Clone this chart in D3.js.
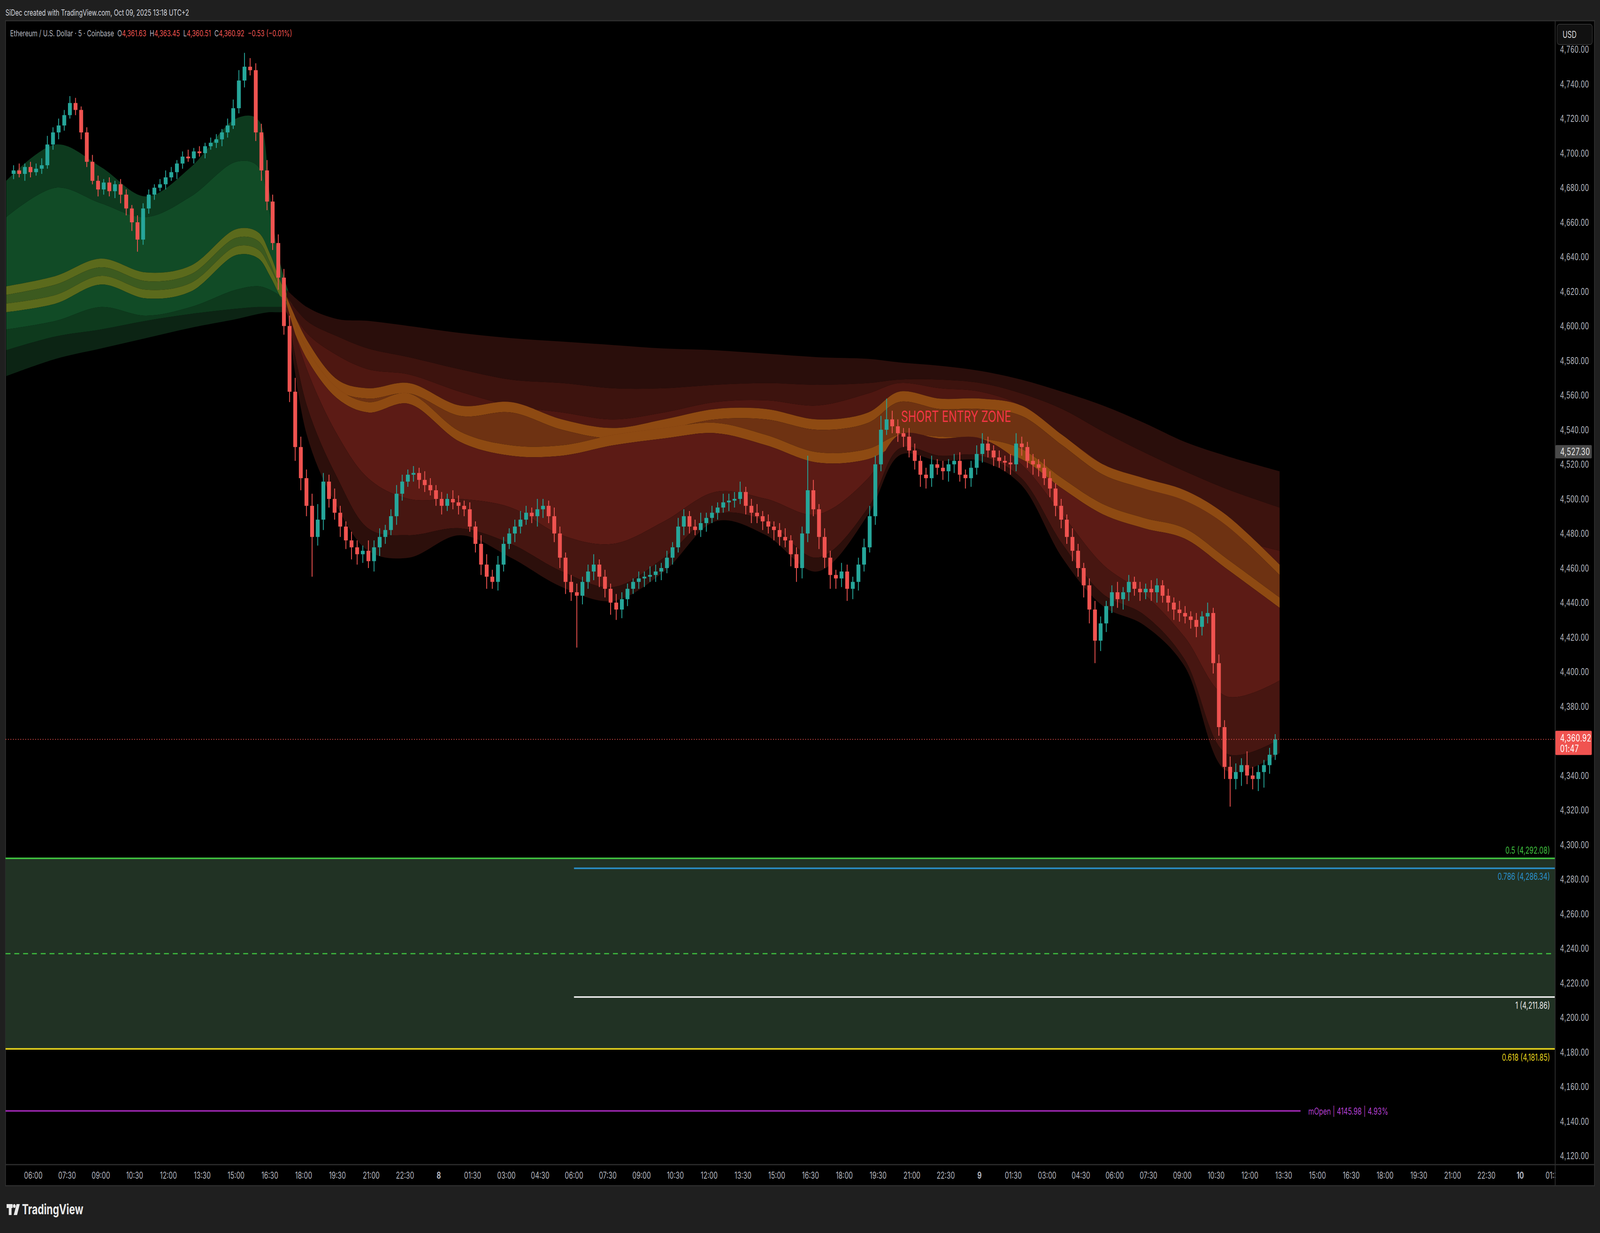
<!DOCTYPE html>
<html>
<head>
<meta charset="utf-8">
<script src="https://cdn.jsdelivr.net/npm/d3@7"></script>
<style>
  html, body { margin: 0; padding: 0; overflow: hidden; background: #1f1f1f; }
  svg { display: block; width: 100vw; height: 100vh; font-family: Inter, "Noto Sans", sans-serif; }
</style>
</head>
<body>
<div id="chart"></div>
<script>
// closes of 15 minute bars, from Oct 7 05:00
var closes = [4690,4688,4692,4689,4691,4693,4705,4712,4716,4722,4729,4725,4712,4695,4684,4679,4683,4678,4682,4676,4668,4660,4650,4668,4676,
  4680,4682,4686,4689,4694,4698,4697,4701,4700,4704,4706,4708,4712,4716,4726,4742,4750,4748,4712,4690,4672,4648,4628,4600,4562,
  4530,4512,4496,4478,4488,4510,4500,4492,4484,4476,4472,4468,4470,4464,4472,4478,4482,4490,4503,4510,4514,4515,4511,4508,4505,
  4500,4496,4500,4498,4496,4494,4484,4474,4462,4455,4452,4462,4474,4480,4484,4488,4492,4490,4494,4496,4490,4480,4466,4452,4446,
  4444,4452,4458,4462,4455,4448,4440,4436,4442,4448,4452,4454,4455,4456,4458,4460,4466,4472,4484,4490,4484,4482,4486,4489,4492,
  4495,4498,4499,4500,4504,4496,4492,4490,4487,4484,4482,4478,4476,4468,4460,4480,4505,4494,4478,4466,4456,4454,4458,4448,4452,
  4462,4472,4490,4520,4540,4546,4542,4538,4536,4528,4522,4514,4512,4520,4518,4516,4520,4522,4514,4512,4518,4526,4532,4528,4524,
  4522,4521,4520,4532,4530,4522,4520,4518,4512,4506,4496,4488,4478,4470,4460,4450,4436,4418,4428,4438,4446,4442,4446,4452,4448,
  4446,4448,4446,4450,4444,4440,4436,4434,4432,4430,4426,4432,4434,4405,4368,4345,4338,4342,4346,4340,4338,4342,4346,4352,4360.92];
var hiX = [3,4,2,3,3,4,5,3,4,3,4,3,2,3,4,3,2,3,2,3,3,2,4,3,3,
  2,3,4,3,2,3,4,2,3,2,3,3,2,4,5,6,8,5,4,5,6,4,5,5,6,
  8,6,5,7,9,5,4,6,4,3,5,4,3,6,4,5,3,4,5,4,3,4,3,5,4,
  3,4,3,5,4,3,4,3,5,6,4,5,4,3,4,5,4,3,6,4,3,5,4,3,4,
  5,3,4,6,3,4,3,5,4,3,2,4,3,5,4,3,4,3,5,4,3,4,6,3,4,
  3,5,4,4,6,3,4,5,3,4,3,4,5,3,4,4,20,6,3,5,4,3,5,4,3,
  4,5,6,5,8,12,5,4,3,5,4,3,4,5,3,4,3,4,5,3,4,5,6,4,3,
  4,3,5,6,4,3,4,3,5,4,3,4,3,5,4,3,4,5,4,3,4,6,3,4,3,
  4,3,5,4,3,4,3,5,4,3,4,3,6,3,5,4,6,5,4,8,5,4,3,4,3];
var loX = [3,2,4,3,2,3,2,3,4,3,2,3,4,3,2,4,3,3,4,5,4,5,7,3,3,
  3,2,3,2,4,3,2,3,2,3,2,3,4,3,2,3,4,3,5,6,5,4,7,5,6,
  8,7,6,23,5,6,5,4,6,5,7,6,5,4,6,5,4,3,5,4,3,4,5,4,3,
  4,5,3,4,5,4,3,5,6,7,4,5,4,3,5,4,3,4,6,5,4,5,6,7,5,
  30,5,4,5,6,5,7,6,5,4,3,4,5,3,4,5,3,4,3,5,4,3,4,5,3,
  4,3,5,4,3,5,6,4,5,4,6,5,4,7,8,6,5,4,7,6,8,6,5,7,6,
  5,4,3,5,4,3,4,5,6,4,5,7,6,5,4,5,6,5,4,6,5,4,5,4,5,
  4,5,6,4,5,4,6,5,4,5,6,5,4,6,5,7,8,13,6,5,4,5,6,5,4,
  5,4,5,6,4,5,6,5,4,5,6,5,4,6,5,7,16,6,8,5,6,7,9,5,3];

// green ribbon, hours since Oct 7 06:00
var gT = [-1.2,1,3,5,7,9,10,10.5,11,11.5];
var gTop = [4684,4705,4692,4675,4692,4720,4719,4676,4629,4608];
var gMid = [4663,4680,4671,4663,4675,4695,4692,4665,4634,4613];
var gY1 = [4623,4629,4639,4631,4635,4656,4654,4642,4625,4613];
var gY2 = [4613,4618,4629,4621,4625,4646,4644,4634,4621,4610];
var gLow = [4598,4603,4611,4606,4611,4621,4623,4621,4617,4611];
var gSlow1 = [4586,4594,4598,4603,4607,4610,4611,4611,4611,4611];
var gSlow2 = [4571,4581,4587,4593,4599,4604,4607,4608,4608,4609];

// red ribbon
var rT = [11.24,12.14,13.5,14.86,16.67,18.94,21.2,23.47,25.74,28.0,30.27,32.53,34.8,37.06,38.42,40.24,42.05,43.86,45.67,47.48,49.3,51.11,52.92,55.32];
var rS2 = [4621,4611,4604,4603,4600,4596,4593,4591,4589,4587,4586,4584,4582,4581,4579,4577,4574,4569,4562,4554,4544,4533,4525,4516];
var rS1 = [4617,4603,4594,4587,4582,4575,4569,4567,4564,4564,4566,4567,4566,4567,4569,4569,4567,4561,4552,4539,4527,4516,4506,4495];
var rMid = [4614,4596,4583,4575,4572,4562,4554,4550,4546,4550,4556,4557,4554,4561,4567,4564,4562,4554,4537,4520,4504,4491,4479,4470];
var rO1 = [4617,4592,4569,4564,4567,4554,4556,4546,4541,4546,4552,4552,4546,4550,4562,4558,4558,4554,4537,4520,4512,4505,4491,4462];
var rO2 = [4614,4587,4564,4556,4561,4539,4531,4531,4537,4541,4544,4537,4527,4529,4537,4536,4535,4529,4512,4497,4489,4483,4466,4443];
var rIn1 = [4613,4575,4537,4512,4500,4500,4495,4479,4474,4487,4504,4500,4491,4512,4537,4535,4535,4520,4491,4462,4445,4420,4386,4395];
var rIn2 = [4611,4554,4512,4483,4479,4483,4474,4458,4449,4466,4491,4487,4466,4495,4529,4525,4525,4512,4474,4445,4433,4407,4353,4361];
var rFast = [4611,4537,4495,4470,4466,4479,4466,4449,4441,4458,4487,4479,4458,4491,4525,4522,4522,4508,4466,4438,4427,4403,4343,4353];

var priceTicks = d3.range(4120, 4761, 20).filter(function(v) { return v !== 4360; });
var fibNames = ["0.5", "0.786", "1", "0.618"];
var fibValues = [4292.08, 4286.34, 4211.86, 4181.85];
var fibMid = 4236.97;
var mOpen = 4145.98;
var lastPrice = 4360.92;
var markPrice = 4527.30;

var W = 5816, H = 3156;
var L = 20, R = 5653, T = 53, B = 2981;

var svg = d3.select("#chart").append("svg")
  .attr("viewBox", "0 0 " + W + " " + H)
  .attr("preserveAspectRatio", "none");
svg.append("rect").attr("width", W).attr("height", H).attr("fill", "#1f1f1f");
svg.append("rect").attr("x", L).attr("y", T).attr("width", 5796 - L).attr("height", 3035 - T)
  .attr("fill", "#000").attr("stroke", "#2e2e2e").attr("stroke-width", 3);

var y = d3.scaleLinear().domain([4120, 4760]).range([2958.5, 126.5]);
var x = d3.scaleTime()
  .domain([new Date(2025, 9, 7, 6, 0), new Date(2025, 9, 10, 0, 0)])
  .range([121, 5526]);
var t0 = new Date(2025, 9, 7, 6, 0);
function hrs(h) { return new Date(t0.getTime() + h * 3600e3); }

var plot = svg.append("g");
svg.append("clipPath").attr("id", "clip").append("rect")
  .attr("x", L).attr("y", T).attr("width", R - L).attr("height", B - T);
plot.attr("clip-path", "url(#clip)");

// ribbons
function band(ts, a, b, color) {
  var pts = ts.map(function(t, i) { return {t: t, a: a[i], b: b[i]}; });
  var area = d3.area()
    .curve(d3.curveCatmullRom)
    .x(function(d) { return x(hrs(d.t)); })
    .y0(function(d) { return y(d.a); })
    .y1(function(d) { return y(d.b); });
  plot.append("path").datum(pts).attr("d", area).attr("fill", color);
}
function shift(arr, v) { return arr.map(function(d) { return d - v; }); }

band(gT, gSlow1, gSlow2, "#0c2414");
band(gT, gLow, gSlow1, "#0e3a1d");
band(gT, gTop, gMid, "#0d3a1e");
band(gT, gMid, gY1, "#114b26");
band(gT, gY1, shift(gY1, 5), "#5b6a1c");
band(gT, shift(gY1, 5), gY2, "#3c5a1f");
band(gT, gY2, shift(gY2, 5), "#5b6a1c");
band(gT, shift(gY2, 5), gLow, "#114b26");

band(rT, rS2, rS1, "#2a0e0b");
band(rT, rS1, rMid, "#3d130e");
band(rT, rMid, rO1, "#4e1711");
band(rT, rO1, shift(rO1, 6), "#8e4a12");
band(rT, shift(rO1, 6), rO2, "#6e3212");
band(rT, rO2, shift(rO2, 6), "#8e4a12");
band(rT, shift(rO2, 6), rIn1, "#5c1b15");
band(rT, rIn1, rIn2, "#471611");
band(rT, rIn2, rFast, "#2c0f0b");

// fib zone
plot.append("rect").attr("x", L).attr("width", R - L)
  .attr("y", y(fibValues[0])).attr("height", y(fibValues[3]) - y(fibValues[0]))
  .attr("fill", "#213224");
var fibStart = new Date(2025, 9, 8, 6, 0);
var fibColors = ["#3fbf3f", "#2a8fc9", "#e8e8e8", "#e6d21c"];
fibValues.forEach(function(v, i) {
  var x0 = (i === 1 || i === 2) ? x(fibStart) : L;
  plot.append("line").attr("x1", x0).attr("x2", R).attr("y1", y(v)).attr("y2", y(v))
    .attr("stroke", fibColors[i]).attr("stroke-width", 4);
  svg.append("text").attr("x", 5634).attr("y", y(v) + (i === 0 ? -12 : 30))
    .attr("text-anchor", "end").attr("fill", fibColors[i]).attr("font-size", 24)
    .text(fibNames[i] + " (" + d3.format(",.2f")(v) + ")");
});
plot.append("line").attr("x1", L).attr("x2", R).attr("y1", y(fibMid)).attr("y2", y(fibMid))
  .attr("stroke", "#3fbf3f").attr("stroke-width", 3).attr("stroke-dasharray", "18,14");

// mOpen
var mEnd = x(new Date(2025, 9, 9, 14, 15));
plot.append("line").attr("x1", L).attr("x2", mEnd).attr("y1", y(mOpen)).attr("y2", y(mOpen))
  .attr("stroke", "#9c27b0").attr("stroke-width", 4);
svg.append("text").attr("x", mEnd + 28).attr("y", y(mOpen) + 9).attr("fill", "#b33fd0")
  .attr("font-size", 24).text("mOpen | 4145.98 | 4.93%");

// candles
var bars = closes.map(function(c, i) {
  var o = i === 0 ? 4688 : closes[i - 1];
  return {t: -1 + i * 0.25 + 0.125, o: o, c: c,
          h: Math.max(o, c) + hiX[i], l: Math.min(o, c) - loX[i]};
});
var bw = 14;
var cg = plot.selectAll(".bar").data(bars).enter().append("g");
cg.append("line")
  .attr("x1", function(d) { return x(hrs(d.t)); })
  .attr("x2", function(d) { return x(hrs(d.t)); })
  .attr("y1", function(d) { return y(d.h); })
  .attr("y2", function(d) { return y(d.l); })
  .attr("stroke", function(d) { return d.c >= d.o ? "#26a69a" : "#ef5350"; })
  .attr("stroke-width", 3);
cg.append("rect")
  .attr("x", function(d) { return x(hrs(d.t)) - bw / 2; })
  .attr("width", bw)
  .attr("y", function(d) { return y(Math.max(d.o, d.c)); })
  .attr("height", function(d) { return Math.max(3, Math.abs(y(d.o) - y(d.c))); })
  .attr("fill", function(d) { return d.c >= d.o ? "#26a69a" : "#ef5350"; });

// last price line
plot.append("line").attr("x1", L).attr("x2", R).attr("y1", y(lastPrice)).attr("y2", y(lastPrice))
  .attr("stroke", "#ef5350").attr("stroke-width", 2).attr("stroke-dasharray", "3,6");

svg.append("text").attr("x", 3275).attr("y", 1080).attr("fill", "#f23645")
  .attr("font-size", 40).text("SHORT ENTRY ZONE");

// price axis
svg.append("line").attr("x1", R).attr("x2", R).attr("y1", T).attr("y2", 3035)
  .attr("stroke", "#2e2e2e").attr("stroke-width", 3);
var yAxis = d3.axisRight(y).tickValues(priceTicks)
  .tickFormat(d3.format(",.2f")).tickSize(0).tickPadding(18);
var ya = svg.append("g").attr("transform", "translate(" + R + ",0)").call(yAxis);
ya.select(".domain").remove();
ya.selectAll("text").attr("fill", "#b2b5be").attr("font-size", 25).attr("letter-spacing", 1);

svg.append("rect").attr("x", 5660).attr("y", 62).attr("width", 128).attr("height", 52)
  .attr("rx", 8).attr("fill", "#111").attr("stroke", "#333").attr("stroke-width", 2);
svg.append("text").attr("x", 5680).attr("y", 97).attr("fill", "#ddd").attr("font-size", 24).text("USD");

svg.append("rect").attr("x", 5654).attr("y", y(markPrice) - 17).attr("width", 132).attr("height", 34)
  .attr("rx", 3).attr("fill", "#4a4a4a");
svg.append("text").attr("x", 5671).attr("y", y(markPrice) + 9).attr("fill", "#e8e8e8")
  .attr("font-size", 25).attr("letter-spacing", 1).text(d3.format(",.2f")(markPrice));

svg.append("rect").attr("x", 5654).attr("y", y(lastPrice) - 22).attr("width", 132).attr("height", 62)
  .attr("rx", 3).attr("fill", "#f05350");
svg.append("text").attr("x", 5671).attr("y", y(lastPrice) + 6).attr("fill", "#fff")
  .attr("font-size", 25).attr("letter-spacing", 1).text(d3.format(",.2f")(lastPrice));
svg.append("text").attr("x", 5671).attr("y", y(lastPrice) + 33).attr("fill", "#fff")
  .attr("font-size", 25).attr("letter-spacing", 1).text("01:47");

// time axis
svg.append("line").attr("x1", L).attr("x2", 5796).attr("y1", B).attr("y2", B)
  .attr("stroke", "#2e2e2e").attr("stroke-width", 3);
var ticks = d3.timeMinute.range(new Date(2025, 9, 7, 6, 0), new Date(2025, 9, 10, 1, 40), 90);
svg.append("clipPath").attr("id", "clipx").append("rect").attr("x", L).attr("y", B).attr("width", R - L).attr("height", 60);
var xg = svg.append("g").attr("clip-path", "url(#clipx)");
xg.selectAll("text").data(ticks).enter().append("text")
  .attr("x", function(d) { return x(d); })
  .attr("y", 3017).attr("text-anchor", "middle").attr("font-size", 24)
  .attr("fill", "#b2b5be")
  .attr("font-weight", function(d) { return d.getHours() === 0 && d.getMinutes() === 0 ? "bold" : null; })
  .text(function(d) {
    return d.getHours() === 0 && d.getMinutes() === 0 ? d.getDate() : d3.timeFormat("%H:%M")(d);
  });

// header
svg.append("text").attr("x", 20).attr("y", 40).attr("fill", "#d1d4dc").attr("font-size", 22)
  .text("SiDec created with TradingView.com, Oct 09, 2025 13:18 UTC+2");
var lg = svg.append("text").attr("x", 37).attr("y", 93).attr("font-size", 22).attr("fill", "#b2b5be")
  .attr("xml:space", "preserve");
lg.append("tspan").text("Ethereum / U.S. Dollar · 5 · Coinbase  O");
lg.append("tspan").attr("fill", "#ef5350").text("4,361.63");
lg.append("tspan").text("  H");
lg.append("tspan").attr("fill", "#ef5350").text("4,363.45");
lg.append("tspan").text("  L");
lg.append("tspan").attr("fill", "#ef5350").text("4,360.51");
lg.append("tspan").text("  C");
lg.append("tspan").attr("fill", "#ef5350").text("4,360.92  −0.53 (−0.01%)");

// logo
var logo = svg.append("g").attr("fill", "#e8e8e8");
logo.append("rect").attr("x", 24).attr("y", 3082).attr("width", 22).attr("height", 10);
logo.append("rect").attr("x", 32).attr("y", 3082).attr("width", 10).attr("height", 28);
logo.append("circle").attr("cx", 52).attr("cy", 3087).attr("r", 5);
logo.append("path").attr("d", "M60,3082 L72,3082 L62,3110 L50,3110 Z");
svg.append("text").attr("x", 80).attr("y", 3108).attr("fill", "#e8e8e8")
  .attr("font-size", 36).attr("font-weight", "bold").text("TradingView");
</script>
</body>
</html>
